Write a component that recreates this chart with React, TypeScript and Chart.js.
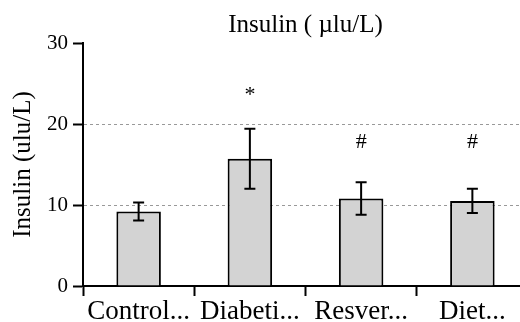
import React, { useEffect, useRef } from "react";
import { Chart, registerables } from "chart.js";

Chart.register(...registerables);

const categories = ["Control...", "Diabeti...", "Resver...", "Diet..."];
const means = [9.2, 15.7, 10.8, 10.5];
const errors = [1.1, 3.7, 2.0, 1.5];
const marks = ["", "*", "#", "#"];
const markValues = [0, 23.6, 17.7, 17.7];
const yTicks = [0, 10, 20, 30];
const chartTitle = "Insulin ( µlu/L)";
const yTitle = "Insulin (ulu/L)";

const FONT = "'Liberation Serif', 'Times New Roman', serif";

const extrasPlugin = {
  id: "extras",
  afterDatasetsDraw(chart: any) {
    const { ctx, chartArea } = chart;
    const y = chart.scales.y;
    const meta = chart.getDatasetMeta(0);
    ctx.save();
    ctx.strokeStyle = "#000";
    ctx.lineWidth = 2;
    meta.data.forEach((bar: any, i: number) => {
      const x = bar.x;
      const top = y.getPixelForValue(means[i] + errors[i]);
      const bot = y.getPixelForValue(means[i] - errors[i]);
      ctx.beginPath();
      ctx.moveTo(x, top);
      ctx.lineTo(x, bot);
      ctx.moveTo(x - 5.5, top);
      ctx.lineTo(x + 5.5, top);
      ctx.moveTo(x - 5.5, bot);
      ctx.lineTo(x + 5.5, bot);
      ctx.stroke();
      if (marks[i]) {
        ctx.fillStyle = "#000";
        ctx.font = `22px ${FONT}`;
        ctx.textAlign = "center";
        ctx.textBaseline = "middle";
        ctx.fillText(marks[i], x, y.getPixelForValue(markValues[i]));
      }
    });
    ctx.fillStyle = "#000";
    ctx.font = `25px ${FONT}`;
    ctx.textAlign = "center";
    ctx.textBaseline = "alphabetic";
    ctx.fillText(chartTitle, (chartArea.left + chartArea.right) / 2, 32);
    ctx.restore();
  },
};

export default function App() {
  const ref = useRef<HTMLCanvasElement>(null);
  useEffect(() => {
    if (!ref.current) return;
    const chart = new Chart(ref.current, {
      type: "bar",
      data: {
        labels: categories,
        datasets: [
          {
            data: means,
            backgroundColor: "#d3d3d3",
            borderColor: "#000",
            borderWidth: 2,
            categoryPercentage: 1,
            barPercentage: 0.4,
          },
        ],
      },
      options: {
        responsive: false,
        animation: false,
        layout: { padding: { top: 43, left: 0, right: 0, bottom: 0 } },
        plugins: { legend: { display: false }, tooltip: { enabled: false }, title: { display: false } },
        scales: {
          x: {
            afterFit: (s: any) => {
              s.height = 36;
            },
            grid: {
              drawOnChartArea: false,
              offset: true,
              tickLength: 10,
              tickColor: "#000",
              tickWidth: 2,
            },
            border: { color: "#000", width: 2 },
            ticks: {
              color: "#000",
              font: { family: FONT, size: 27, lineHeight: 1 },
              padding: 2,
              maxRotation: 0,
              autoSkip: false,
            },
          },
          y: {
            min: 0,
            max: 30,
            afterFit: (s: any) => {
              s.width = 83;
            },
            afterBuildTicks: (s: any) => {
              s.ticks = yTicks.map((v) => ({ value: v }));
            },
            grid: {
              color: (c: any) => (c.tick && (c.tick.value === 10 || c.tick.value === 20) ? "#999" : "rgba(0,0,0,0)"),
              lineWidth: 1,
              tickLength: 10,
              tickColor: "#000",
              tickWidth: 2,
              tickBorderDash: [],
            },
            border: { color: "#000", width: 2, dash: [3, 3] },
            ticks: {
              color: "#000",
              font: { family: FONT, size: 21 },
              padding: 5,
            },
            title: {
              display: true,
              text: yTitle,
              color: "#000",
              font: { family: FONT, size: 25 },
              padding: 8,
            },
          },
        },
      },
      plugins: [extrasPlugin],
    });
    return () => chart.destroy();
  }, []);
  return (
    <div style={{ position: "fixed", left: 0, top: 0, width: 528, height: 322, background: "#fff" }}>
      <canvas ref={ref} width={528} height={322} style={{ display: "block" }} />
    </div>
  );
}
